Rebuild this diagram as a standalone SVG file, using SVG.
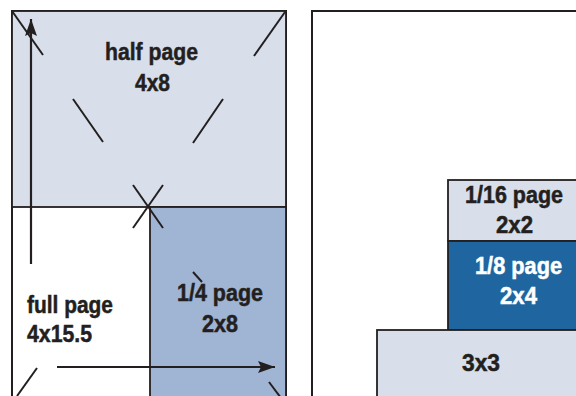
<svg xmlns="http://www.w3.org/2000/svg" width="576" height="396" viewBox="0 0 576 396">
<style>
.pg{fill:#ffffff;stroke:#231f20;stroke-width:2}
.lt{fill:#d8dfeb;stroke:#231f20;stroke-width:1.8}
.md{fill:#a0b5d3;stroke:#231f20;stroke-width:1.8}
.dk{fill:#1f66a0;stroke:#231f20;stroke-width:1.8}
.mk{stroke:#231f20;stroke-width:2;fill:none}
.ar{stroke:#231f20;stroke-width:2.2;fill:none}
text{font-family:"Liberation Sans",Arial,sans-serif;font-weight:bold;font-size:23.5px;fill:#231f20;stroke:#231f20;stroke-width:0.5}
.w{fill:#ffffff;stroke:#ffffff}
</style>
<defs>
<marker id="ah" markerUnits="userSpaceOnUse" markerWidth="20" markerHeight="14" refX="17" refY="6" orient="auto">
<path d="M0,0 L17,6 L0,12 L3,6 Z" fill="#231f20"/>
</marker>
</defs>
<rect width="576" height="396" fill="#ffffff"/>
<g id="full-page">
<rect class="pg" x="12" y="11" width="274" height="400"/>
<text x="27" y="313" textLength="86" lengthAdjust="spacingAndGlyphs">full page</text>
<text x="27" y="342" textLength="65" lengthAdjust="spacingAndGlyphs">4x15.5</text>
</g>
<g id="half-page">
<rect class="lt" x="12" y="11" width="274" height="196"/>
<text x="151.5" y="60" text-anchor="middle" textLength="93" lengthAdjust="spacingAndGlyphs">half page</text>
<text x="152.5" y="91" text-anchor="middle" textLength="35" lengthAdjust="spacingAndGlyphs">4x8</text>
</g>
<g id="quarter-page">
<rect class="md" x="150" y="207" width="136" height="200"/>
<text x="220" y="301" text-anchor="middle" textLength="86" lengthAdjust="spacingAndGlyphs">1/4 page</text>
<text x="220" y="332" text-anchor="middle" textLength="36" lengthAdjust="spacingAndGlyphs">2x8</text>
</g>
<g id="right-page">
<rect class="pg" x="312" y="11" width="300" height="400"/>
</g>
<g id="sixteenth-page">
<rect class="lt" x="448" y="180" width="140" height="61"/>
<text x="514" y="203" text-anchor="middle" textLength="98" lengthAdjust="spacingAndGlyphs">1/16 page</text>
<text x="514.5" y="233" text-anchor="middle" textLength="37" lengthAdjust="spacingAndGlyphs">2x2</text>
</g>
<g id="eighth-page">
<rect class="dk" x="448" y="241" width="140" height="89"/>
<text class="w" x="518.5" y="274" text-anchor="middle" textLength="87" lengthAdjust="spacingAndGlyphs">1/8 page</text>
<text class="w" x="518.5" y="304" text-anchor="middle" textLength="37" lengthAdjust="spacingAndGlyphs">2x4</text>
</g>
<g id="three-by-three">
<rect class="lt" x="377" y="330" width="220" height="80"/>
<text x="481" y="371" text-anchor="middle" textLength="38" lengthAdjust="spacingAndGlyphs">3x3</text>
</g>
<g id="crop-marks">
<line class="mk" x1="12" y1="11" x2="43" y2="55"/>
<line class="mk" x1="285" y1="12" x2="254" y2="56"/>
<line class="mk" x1="73" y1="99" x2="103" y2="142"/>
<line class="mk" x1="223" y1="99" x2="193" y2="143"/>
<line class="mk" x1="133" y1="185" x2="163" y2="228"/>
<line class="mk" x1="163" y1="185" x2="133" y2="228"/>
<line class="mk" x1="193" y1="272" x2="202" y2="282"/>
<line class="mk" x1="37" y1="368" x2="17" y2="396"/>
<line class="mk" x1="269" y1="382" x2="281" y2="398"/>
</g>
<g id="connectors">
<line class="ar" x1="31" y1="264" x2="31" y2="19" marker-end="url(#ah)"/>
<line class="ar" x1="57" y1="367" x2="275" y2="367" marker-end="url(#ah)"/>
</g>
</svg>
